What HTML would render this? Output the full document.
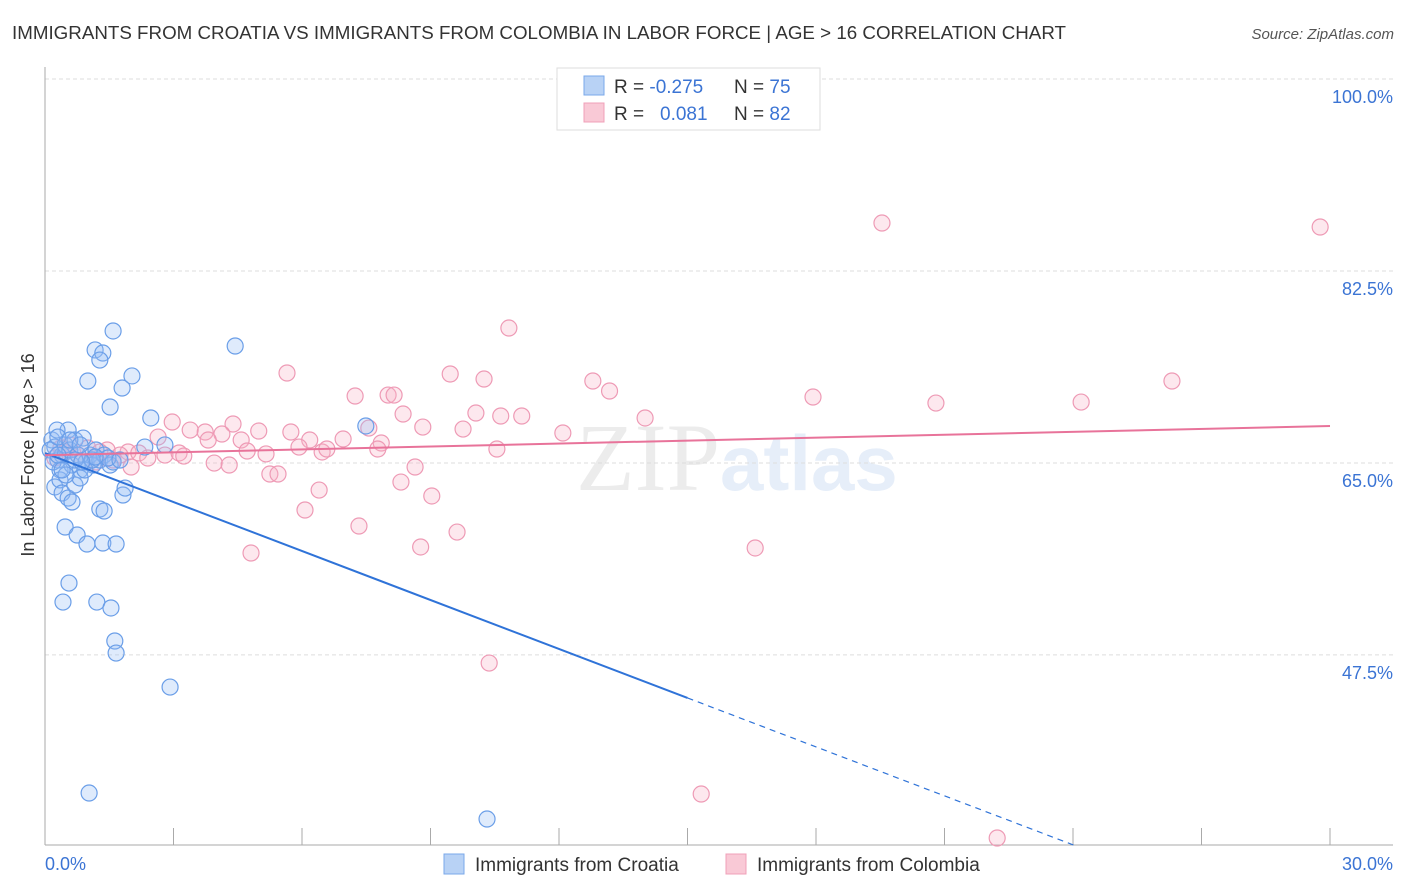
<!DOCTYPE html>
<html><head><meta charset="utf-8"><style>
body{margin:0;background:#fff;font-family:"Liberation Sans",sans-serif;}
svg{display:block}
</style></head><body>
<svg id="chart" width="1406" height="892">
<text x="12" y="39" font-size="18" fill="#333" textLength="1054" lengthAdjust="spacingAndGlyphs">IMMIGRANTS FROM CROATIA VS IMMIGRANTS FROM COLOMBIA IN LABOR FORCE | AGE &gt; 16 CORRELATION CHART</text>
<text x="1394" y="39" font-size="15" fill="#555" font-style="italic" text-anchor="end">Source: ZipAtlas.com</text>
<text x="720" y="490" font-size="96" fill="#ececec" text-anchor="end" font-family="Liberation Serif">ZIP</text>
<text x="720" y="490" font-size="78" fill="#e6eef9" font-weight="bold">atlas</text>
<text transform="translate(34,455) rotate(-90)" font-size="18" fill="#333" text-anchor="middle">In Labor Force | Age &gt; 16</text>
<g id="grid"></g><g id="marks"></g>
<g>
<rect x="557" y="68" width="263" height="62" fill="#fff" stroke="#ddd"/>
<rect x="584" y="76" width="20" height="19" fill="#b8d2f5" stroke="#7aa8ea"/>
<rect x="584" y="103" width="20" height="19" fill="#f9c9d6" stroke="#f0a0b8"/>
<text x="614" y="93" font-size="19" fill="#333">R = <tspan fill="#3b74d4">-0.275</tspan><tspan x="734">N = </tspan><tspan fill="#3b74d4">75</tspan></text>
<text x="614" y="120" font-size="19" fill="#333">R = <tspan x="660" fill="#3b74d4">0.081</tspan><tspan x="734">N = </tspan><tspan fill="#3b74d4">82</tspan></text>
</g>
<g>
<rect x="444" y="854" width="20" height="20" fill="#b8d2f5" stroke="#7aa8ea"/>
<text x="475" y="871" font-size="19" fill="#333">Immigrants from Croatia</text>
<rect x="726" y="854" width="20" height="20" fill="#f9c9d6" stroke="#f0a0b8"/>
<text x="757" y="871" font-size="19" fill="#333">Immigrants from Colombia</text>
</g>
</svg>
<script>
const blueX=[0.16,0.23,0.30,0.35,0.40,0.47,0.54,0.58,0.63,0.70,0.77,0.82,0.89,0.96,1.05,1.12,1.19,1.28,1.38,1.52,1.59,0.23,0.35,0.40,0.54,0.63,0.70,0.82,0.47,0.75,0.98,1.35,1.66,1.28,1.38,1.82,1.87,0.56,0.42,1.21,1.54,1.63,1.66,2.92,1.03,10.32,1.17,1.35,1.28,1.59,1.0,1.80,2.03,1.52,2.47,4.44,2.80,2.33,7.49,0.28,0.12,0.19,0.30,0.49,0.93,1.10,1.47,1.75,0.58,0.70,0.82,0.40,0.30,1.17,0.86];
const blueY=[67.1,66.45,65.27,64.36,65.72,66.64,68.0,66.18,64.81,67.09,65.72,64.36,67.27,65.09,65.72,64.81,66.18,65.27,65.72,64.81,65.09,62.81,63.45,62.26,61.8,61.44,62.99,63.63,59.16,58.43,57.61,57.7,57.61,60.8,60.62,62.08,62.71,54.05,52.32,52.32,51.78,48.77,47.67,44.57,34.91,32.54,75.3,75.02,74.38,77.03,72.47,71.83,72.93,70.1,69.1,75.66,66.64,66.45,68.37,68.0,66.18,65.09,67.36,63.9,64.36,65.27,65.45,65.27,67.09,65.27,66.64,64.36,65.72,65.54,65.09];
const pinkX=[19.54,29.77,10.83,5.65,9.46,10.25,12.79,13.18,7.24,8.01,8.15,17.93,26.31,24.19,20.8,8.36,10.06,10.64,11.13,14.01,2.97,4.39,7.56,8.82,9.76,12.09,3.39,3.74,4.13,4.99,5.74,3.81,4.58,6.18,6.96,7.85,2.64,1.45,1.94,2.19,2.40,2.80,3.13,3.24,4.72,5.16,5.93,6.47,6.58,7.77,10.55,3.95,4.30,2.01,1.59,0.77,0.47,1.0,1.19,5.25,5.44,8.64,8.31,6.40,9.03,6.07,7.33,9.62,8.77,4.81,16.58,10.37,15.32,22.23,0.37,0.58,0.23,1.28,1.75];
const pinkY=[86.87,86.51,77.3,73.2,73.11,72.65,72.47,71.56,71.1,71.19,71.19,71.01,72.47,70.55,70.46,69.46,69.55,69.28,69.28,69.1,68.73,68.55,68.18,68.27,68.09,67.73,68.0,67.82,67.64,67.91,67.82,67.09,67.09,67.09,67.18,66.82,67.36,66.18,66.0,65.91,65.45,65.72,65.91,65.63,66.09,65.82,66.45,66.0,66.27,66.27,66.27,64.99,64.81,64.63,65.27,65.72,66.0,66.36,65.09,63.99,63.99,64.63,63.26,62.53,61.99,60.71,59.25,58.7,57.34,56.79,57.25,46.76,34.82,30.81,66.36,66.64,65.45,66.0,65.72];
const yTicks=[100,82.5,65,47.5];
const blueTrend=[65.9,-1.488];
const pinkTrend=[65.7,0.089];
const X=v=>45+v/30*1285, Y=v=>79+(100-v)*10.97;
const NS="http://www.w3.org/2000/svg";
function mk(p,t,a){const e=document.createElementNS(NS,t);for(const k in a)e.setAttribute(k,a[k]);p.appendChild(e);return e;}
const grid=document.getElementById('grid'),marks=document.getElementById('marks');
yTicks.forEach(t=>{
 const l=mk(grid,'line',{x1:45,x2:1393,y1:Y(t),y2:Y(t),stroke:'#ddd','stroke-dasharray':'4,3'});
 
 
 const tx=mk(grid,'text',{x:1393,y:Y(t)+24,'font-size':18,fill:'#3b74d4','text-anchor':'end'});tx.textContent=t.toFixed(1)+'%';
 
 
});
const ax=mk(grid,'line',{x1:45,x2:45,y1:67,y2:845,stroke:'#aaa'});


const bx=mk(grid,'line',{x1:45,x2:1393,y1:845,y2:845,stroke:'#aaa'});


for(let i=0;i<=10;i++){const t=mk(grid,'line',{x1:X(i*3),x2:X(i*3),y1:828,y2:845,stroke:'#aaa'});
 
 }
[[0,'0.0%','start',45],[30,'30.0%','end',1393]].forEach(d=>{const t=mk(grid,'text',{x:d[3],y:870,'font-size':18,fill:'#3b74d4','text-anchor':d[2]});t.textContent=d[1];
 
 });
function dots(xs,ys,fill,stroke,name){xs.forEach((x,i)=>{const c=mk(marks,'circle',{cx:X(x),cy:Y(ys[i]),r:8,fill:fill,stroke:stroke,'stroke-width':1.2});
 
 });}
dots(pinkX,pinkY,'rgba(247,178,200,0.3)','#ee9ab5','colombia-point');
dots(blueX,blueY,'rgba(150,190,245,0.3)','#6a9ee8','croatia-point');
const bt=x=>blueTrend[0]+blueTrend[1]*x;
const yb=Y(30.17);const xEnd=(30.17-blueTrend[0])/blueTrend[1];
const l1=mk(marks,'line',{x1:X(0),y1:Y(bt(0)),x2:X(15),y2:Y(bt(15)),stroke:'#2f73d8','stroke-width':2});


const l2=mk(marks,'line',{x1:X(15),y1:Y(bt(15)),x2:X(xEnd),y2:yb,stroke:'#2f73d8','stroke-width':1.2,'stroke-dasharray':'6,5'});


const l3=mk(marks,'line',{x1:X(0),y1:Y(pinkTrend[0]),x2:X(30),y2:Y(pinkTrend[0]+pinkTrend[1]*30),stroke:'#e8739a','stroke-width':2});


</script>
</body></html>
